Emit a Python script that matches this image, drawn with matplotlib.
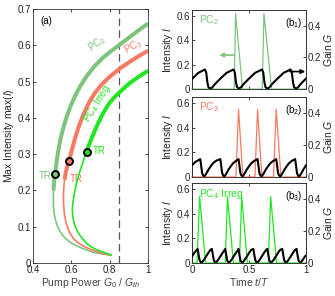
import matplotlib
matplotlib.use('Agg')
import matplotlib.pyplot as plt

plt.rcParams['font.family'] = ['Liberation Sans', 'DejaVu Sans']
plt.rcParams['mathtext.fontset'] = 'custom'
plt.rcParams['mathtext.rm'] = 'Liberation Sans'
plt.rcParams['mathtext.it'] = 'Liberation Sans:italic'
plt.rcParams['font.size'] = 7

# ---------------- data: panel (a) ----------------
pc2_G = [0.803, 0.760, 0.720, 0.684, 0.650, 0.620, 0.597, 0.575, 0.555, 0.540, 0.528,
         0.518, 0.511, 0.507, 0.506, 0.507, 0.510, 0.515,
         0.521, 0.528, 0.537, 0.548, 0.562, 0.578, 0.597, 0.620, 0.647, 0.680,
         0.720, 0.765, 0.810, 0.850, 0.900, 0.950, 1.000]
pc2_I = [0.022, 0.025, 0.029, 0.035, 0.042, 0.049, 0.056, 0.065, 0.076, 0.088, 0.101,
         0.117, 0.135, 0.155, 0.175, 0.200, 0.225, 0.245,
         0.270, 0.297, 0.325, 0.352, 0.380, 0.407, 0.434, 0.461, 0.488, 0.515,
         0.542, 0.566, 0.585, 0.601, 0.621, 0.641, 0.660]
pc3_G = [0.803, 0.750, 0.709, 0.680, 0.655, 0.632, 0.612, 0.595, 0.582, 0.572, 0.565,
         0.561, 0.559, 0.559, 0.561, 0.565, 0.571, 0.579, 0.588,
         0.597, 0.607, 0.620, 0.635, 0.652, 0.672, 0.695, 0.722, 0.755, 0.795,
         0.850, 0.900, 0.950, 1.000]
pc3_I = [0.022, 0.028, 0.036, 0.042, 0.049, 0.057, 0.067, 0.080, 0.095, 0.112, 0.130,
         0.150, 0.170, 0.190, 0.210, 0.230, 0.250, 0.267, 0.281,
         0.300, 0.320, 0.345, 0.370, 0.395, 0.420, 0.445, 0.468, 0.490, 0.511,
         0.535, 0.553, 0.570, 0.585]
pc4_G = [0.808, 0.760, 0.726, 0.700, 0.676, 0.660, 0.644, 0.631, 0.620, 0.612, 0.607,
         0.605, 0.608, 0.612, 0.619, 0.628, 0.640, 0.654, 0.668, 0.679,
         0.700, 0.720, 0.740, 0.760, 0.780, 0.800, 0.825, 0.850, 0.900, 0.950, 1.000]
pc4_I = [0.022, 0.031, 0.038, 0.046, 0.056, 0.066, 0.077, 0.088, 0.100, 0.115, 0.130,
         0.150, 0.165, 0.180, 0.200, 0.222, 0.245, 0.268, 0.290, 0.307,
         0.336, 0.362, 0.386, 0.407, 0.426, 0.442, 0.457, 0.470, 0.494, 0.513, 0.530]
thick_from = [0.20, 0.23, 0.307]          # intensity where thick (stable) branch starts
tr_G = [0.515, 0.588, 0.679]
tr_I = [0.245, 0.281, 0.307]
G_dashed = 0.85

# ---------------- data: panels (b) ----------------
b1_t = [0.000, 0.056, 0.114, 0.125, 0.136, 0.145, 0.160, 0.178, 0.200, 0.246, 0.304,
        0.365, 0.376, 0.387, 0.396, 0.411, 0.429, 0.451, 0.497, 0.555,
        0.615, 0.626, 0.637, 0.646, 0.661, 0.679, 0.701, 0.747, 0.805,
        0.866, 0.877, 0.888, 0.897, 0.912, 0.930, 0.952, 1.000]
b1_G = [0.064, 0.103, 0.124, 0.105, 0.040, 0.012, 0.003, 0.010, 0.030, 0.064, 0.103,
        0.124, 0.105, 0.040, 0.012, 0.003, 0.010, 0.030, 0.064, 0.103,
        0.124, 0.105, 0.040, 0.012, 0.003, 0.010, 0.030, 0.064, 0.103,
        0.124, 0.105, 0.040, 0.012, 0.003, 0.010, 0.030, 0.066]
b1_ti = [0.000, 0.371, 0.383, 0.444, 0.617, 0.632, 0.699, 1.000]
b1_I = [0.0, 0.0, 0.62, 0.0, 0.0, 0.62, 0.0, 0.0]

b2_t = [0.000, 0.030,
        0.073, 0.081, 0.089, 0.099, 0.111, 0.123, 0.148, 0.183, 0.213,
        0.249, 0.257, 0.265, 0.275, 0.287, 0.299, 0.324, 0.359, 0.389,
        0.409, 0.417, 0.425, 0.435, 0.447, 0.459, 0.484, 0.519, 0.549,
        0.576, 0.584, 0.592, 0.602, 0.614, 0.626, 0.651, 0.686, 0.716,
        0.740, 0.748, 0.756, 0.766, 0.778, 0.790, 0.815, 0.850, 0.880,
        0.906, 0.914, 0.922, 0.932, 0.944, 0.956, 0.981, 1.000]
b2_G = [0.074, 0.094,
        0.112, 0.070, 0.025, 0.008, 0.006, 0.018, 0.050, 0.085, 0.102,
        0.112, 0.070, 0.025, 0.008, 0.006, 0.018, 0.050, 0.085, 0.102,
        0.112, 0.070, 0.025, 0.008, 0.006, 0.018, 0.050, 0.085, 0.102,
        0.112, 0.070, 0.025, 0.008, 0.006, 0.018, 0.050, 0.085, 0.102,
        0.112, 0.070, 0.025, 0.008, 0.006, 0.018, 0.050, 0.085, 0.102,
        0.112, 0.070, 0.025, 0.008, 0.006, 0.018, 0.050, 0.072]
b2_ti = [0.000, 0.386, 0.409, 0.447, 0.553, 0.576, 0.614, 0.716, 0.740, 0.781, 1.000]
b2_I = [0.0, 0.0, 0.55, 0.0, 0.0, 0.55, 0.0, 0.0, 0.55, 0.0, 0.0]

b3_t = [0.000, 0.025,
        0.050, 0.060, 0.068, 0.078, 0.090, 0.105, 0.125, 0.148, 0.162,
        0.175, 0.185, 0.193, 0.203, 0.215, 0.230, 0.250, 0.273, 0.287,
        0.292, 0.302, 0.310, 0.320, 0.332, 0.347, 0.367, 0.390, 0.404,
        0.408, 0.418, 0.426, 0.436, 0.448, 0.463, 0.483, 0.506, 0.520,
        0.539, 0.549, 0.557, 0.567, 0.579, 0.594, 0.614, 0.637, 0.651,
        0.662, 0.672, 0.680, 0.690, 0.702, 0.717, 0.737, 0.760, 0.774,
        0.793, 0.803, 0.811, 0.821, 0.833, 0.848, 0.868, 0.891, 0.905,
        0.918, 0.928, 0.936, 0.946, 0.958, 0.973, 0.993, 1.000]
b3_G = [0.040, 0.068,
        0.088, 0.045, 0.015, 0.005, 0.006, 0.020, 0.042, 0.068, 0.082,
        0.088, 0.045, 0.015, 0.005, 0.006, 0.020, 0.042, 0.068, 0.082,
        0.088, 0.045, 0.015, 0.005, 0.006, 0.020, 0.042, 0.068, 0.082,
        0.088, 0.045, 0.015, 0.005, 0.006, 0.020, 0.042, 0.068, 0.082,
        0.088, 0.045, 0.015, 0.005, 0.006, 0.020, 0.042, 0.068, 0.082,
        0.088, 0.045, 0.015, 0.005, 0.006, 0.020, 0.042, 0.068, 0.082,
        0.088, 0.045, 0.015, 0.005, 0.006, 0.020, 0.042, 0.068, 0.082,
        0.088, 0.045, 0.015, 0.005, 0.006, 0.020, 0.042, 0.046]
b3_ti = [0.000, 0.044, 0.067, 0.120, 0.292, 0.312, 0.364, 0.417, 0.437, 0.487,
         0.670, 0.691, 0.743, 1.000]
b3_I = [0.0, 0.0, 0.54, 0.0, 0.0, 0.54, 0.0, 0.0, 0.54, 0.0, 0.0, 0.54, 0.0, 0.0]

c_pc2 = '#7dc47d'
c_pc3 = '#f87a62'
c_pc4 = '#22e622'
c_txt = '#262626'

fig = plt.figure(figsize=(3.35, 2.96), dpi=100)

# ---------------- panel (a) ----------------
ax = fig.add_axes([0.0985, 0.1115, 0.3435, 0.858])
curves = [(pc2_G, pc2_I, c_pc2), (pc3_G, pc3_I, c_pc3), (pc4_G, pc4_I, c_pc4)]
for k, (g, i, c) in enumerate(curves):
    ax.plot(g, i, color=c, lw=1.2, solid_joinstyle='round', zorder=2 + k)
    gs = [gv for gv, iv in zip(g, i) if iv >= thick_from[k] - 1e-9]
    is_ = [iv for iv in i if iv >= thick_from[k] - 1e-9]
    ax.plot(gs, is_, color=c, lw=2.9, solid_capstyle='butt',
            solid_joinstyle='round', zorder=2 + k)
for k, (g, i, c) in enumerate(curves):
    ax.plot(tr_G[k], tr_I[k], 'o', ms=5.0, mfc=c, mec='black', mew=1.4, zorder=10)
ax.axvline(G_dashed, color='#555555', lw=0.9, ls=(0, (6, 3.5)), zorder=1)

ax.text(0.432, 0.241, 'TR', color=c_pc2, fontsize=7, ha='left', va='center')
ax.text(0.590, 0.232, 'TR', color=c_pc3, fontsize=7, ha='left', va='center')
ax.text(0.712, 0.309, 'TR', color=c_pc4, fontsize=7, ha='left', va='center')
ax.text(0.735, 0.605, 'PC$_2$', color=c_pc2, fontsize=7, rotation=38,
        ha='center', va='center')
ax.text(0.925, 0.598, 'PC$_3$', color=c_pc3, fontsize=7, rotation=28,
        ha='center', va='center')
ax.text(0.735, 0.440, 'PC$_4$ Irreg', color=c_pc4, fontsize=7, rotation=58,
        ha='center', va='center')
ax.text(0.44, 0.668, '(a)', color='black', fontsize=7, ha='left', va='center')

ax.set_xlim(0.4, 1.0)
ax.set_ylim(0, 0.7)
ax.set_xticks([0.4, 0.6, 0.8, 1.0])
ax.set_xticklabels(['0.4', '0.6', '0.8', '1'])
ax.set_yticks([0, 0.1, 0.2, 0.3, 0.4, 0.5, 0.6, 0.7])
ax.set_yticklabels(['0', '0.1', '0.2', '0.3', '0.4', '0.5', '0.6', '0.7'])
ax.tick_params(direction='in', length=2.5, width=0.6, top=True, right=True,
               pad=1.5, colors=c_txt, labelsize=7)
ax.set_xlabel('Pump Power $G_0$ / $G_{th}$', fontsize=7.5, color='#444444', labelpad=1)
ax.set_ylabel('Max Intensity max($I$)', fontsize=7.5, color=c_txt, labelpad=1)
for s in ax.spines.values():
    s.set_linewidth(0.6)
    s.set_color('#333333')

# ---------------- panels (b) ----------------
rects = [[0.573, 0.699, 0.340, 0.267],
         [0.573, 0.402, 0.340, 0.270],
         [0.573, 0.1115, 0.340, 0.270]]
panels = [(b1_ti, b1_I, b1_t, b1_G, c_pc2, 'PC$_2$', '(b$_1$)'),
          (b2_ti, b2_I, b2_t, b2_G, c_pc3, 'PC$_3$', '(b$_2$)'),
          (b3_ti, b3_I, b3_t, b3_G, c_pc4, 'PC$_4$ Irreg', '(b$_3$)')]
for k, (rect, (ti, I, tg, G, c, lab, tag)) in enumerate(zip(rects, panels)):
    axl = fig.add_axes(rect)
    axr = axl.twinx()
    axl.plot(ti, I, color=c, lw=0.9, clip_on=False, zorder=3)
    axr.plot(tg, G, color='black', lw=1.5, zorder=3)
    axl.set_xlim(0, 1)
    axl.set_ylim(0, 0.65)
    axr.set_ylim(0, 0.5)
    axl.set_yticks([0, 0.2, 0.4, 0.6])
    axl.set_yticklabels(['0', '0.2', '0.4', '0.6'])
    axr.set_yticks([0, 0.2, 0.4])
    axr.set_yticklabels(['0', '0.2', '0.4'])
    axl.set_xticks([0, 0.5, 1])
    if k == 2:
        axl.set_xticklabels(['0', '0.5', '1'])
        axl.set_xlabel('Time $t/T$', fontsize=7.5, color='#444444', labelpad=1)
    else:
        axl.set_xticklabels([])
    axl.tick_params(direction='in', length=2.5, width=0.6, top=True, right=False,
                    pad=1.5, colors=c_txt, labelsize=7)
    axr.tick_params(direction='in', length=2.5, width=0.6, pad=1.0,
                    colors=c_txt, labelsize=7)
    axl.set_ylabel('Intensity $I$', fontsize=7.5, color=c_txt, labelpad=1)
    axr.set_ylabel('Gain $G$', fontsize=7.5, color=c_txt, labelpad=1)
    for a in (axl, axr):
        for s in a.spines.values():
            s.set_linewidth(0.6)
            s.set_color('#333333')
    axl.text(0.06, 0.565, lab, color=c, fontsize=7.5, ha='left', va='center')
    axl.text(0.975, 0.545, tag, color='black', fontsize=7, ha='right', va='center')
    if k == 0:
        axl.annotate('', xy=(0.24, 0.28), xytext=(0.37, 0.28),
                     arrowprops=dict(arrowstyle='-|>', color=c_pc2, lw=1.2,
                                     mutation_scale=6, shrinkA=0, shrinkB=0))
        axr.annotate('', xy=(0.995, 0.111), xytext=(0.86, 0.111),
                     arrowprops=dict(arrowstyle='-|>', color='black', lw=1.2,
                                     mutation_scale=6, shrinkA=0, shrinkB=0))

fig.savefig('out.png', dpi=100)
